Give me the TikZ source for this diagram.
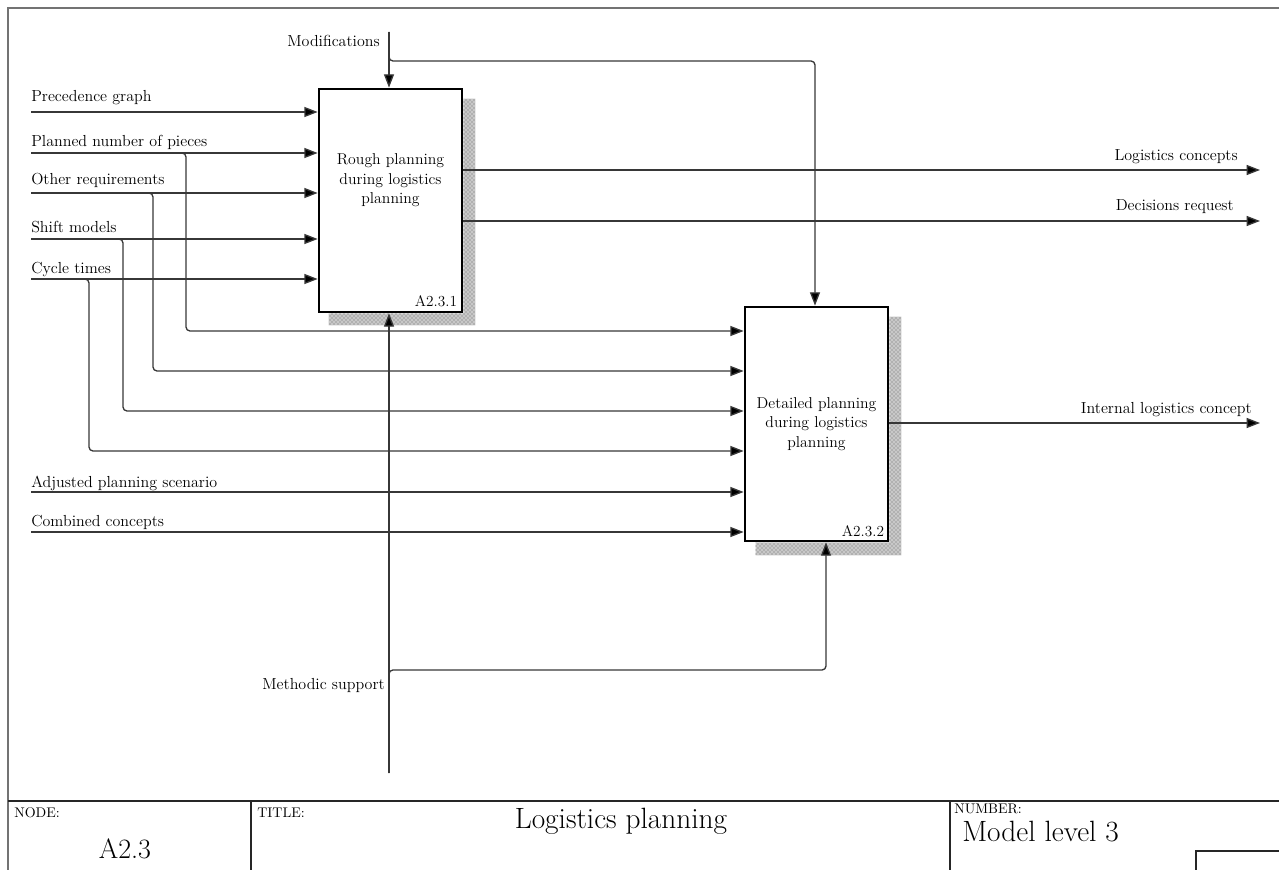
\documentclass[tikz,border=0pt]{standalone}
\definecolor{lineGray}{RGB}{55, 55, 55}
\definecolor{frameGray}{RGB}{115, 115, 115}
\definecolor{shadowGray}{RGB}{200, 200, 200}
\usepackage{tikz}
\usetikzlibrary{arrows.meta, positioning, calc, patterns, backgrounds}

\begin{document}
\begin{tikzpicture}[x=0.75pt, y=-0.75pt,
    flow/.style={draw=lineGray, line width=1pt, rounded corners=3pt,
      -{Triangle[length=10pt, width=7.5pt, fill=black]}},
    activity/.style={draw=black, line width=2pt, fill=white,
      minimum width=107.25pt, inner sep=0pt},
    acttext/.style={align=center, font=\fontsize{11.8}{14.6}\selectfont},
    actid/.style={anchor=base east, inner sep=0pt, font=\fontsize{11.5}{13}\selectfont},
    inlbl/.style={anchor=base west, inner sep=0pt, font=\fontsize{12}{14}\selectfont},
    outlbl/.style={anchor=base east, inner sep=0pt, font=\fontsize{12}{14}\selectfont},
    shade/.style={fill=shadowGray, postaction={pattern=crosshatch dots, pattern color=gray!80!black}},
    frame/.style={draw=frameGray, line width=1.5pt},
    tablebar/.style={draw=black!85, line width=1.1pt},
    headlbl/.style={anchor=base west, inner sep=0pt, font=\fontsize{10.5}{12}\selectfont},
    biglbl/.style={inner sep=0pt, font=\fontsize{22}{26}\selectfont}
  ]
  \useasboundingbox (0,0) rectangle (1279,870);

  % Frame
  \draw[frame] (8,870) -- (8,8) -- (1279,8);

  % Activities
  \node[activity, minimum height=167.25pt] (rough) at (390.5,200.5) {};
  \node[acttext] (roughtext) at ($(rough.center)+(0,-20)$) {Rough planning\\during logistics\\planning};
  \node[actid] (roughid) at ($(rough.south east)+(-6,-7)$) {A2.3.1};

  \node[activity, minimum height=175.5pt] (detail) at (816.5,424) {};
  \node[acttext] (detailtext) at (detail.center) {Detailed planning\\during logistics\\planning};
  \node[actid] (detailid) at ($(detail.south east)+(-5,-6)$) {A2.3.2};

  % Shadows
  \begin{scope}[on background layer]
    \path[shade] ($(rough.north east)+(0,11)$) -- ($(rough.north east)+(12,11)$)
      -- ($(rough.south east)+(12,12)$) -- ($(rough.south west)+(11,12)$)
      -- ($(rough.south west)+(11,0)$) -- (rough.south east) -- cycle;
    \path[shade] ($(detail.north east)+(0,11)$) -- ($(detail.north east)+(12,11)$)
      -- ($(detail.south east)+(12,13)$) -- ($(detail.south west)+(12,13)$)
      -- ($(detail.south west)+(12,0)$) -- (detail.south east) -- cycle;
  \end{scope}

  % Inputs of A2.3.1
  \foreach \name/\y/\up/\txt in {prec/112/10/Precedence graph, pieces/153/6/Planned number of pieces,
      other/193/8/Other requirements, shift/239/6/Shift models, cycle/279/6/Cycle times} {
    \coordinate (\name) at (31,\y);
    \node[inlbl] (\name-lbl) at (31,\y-\up) {\txt};
    \draw[flow] (\name) -- (\name -| rough.west);
  }
  % Same inputs to A2.3.2
  \foreach \name/\bx/\y in {pieces/186/331, other/153/371, shift/123/411, cycle/89/451}
    \draw[flow] (\name) -| (\bx,\y) -- (detail.west |- \bx,\y);

  % Inputs of A2.3.2
  \foreach \name/\y/\up/\txt in {adjusted/492/5/Adjusted planning scenario, combined/532/6/Combined concepts} {
    \coordinate (\name) at (31,\y);
    \node[inlbl] (\name-lbl) at (31,\y-\up) {\txt};
    \draw[flow] (\name) -- (\name -| detail.west);
  }

  % Controls
  \coordinate (modtop) at (389,32);
  \node[outlbl] (modlbl) at (380,47) {Modifications};
  \draw[flow] (modtop) -- (modtop |- rough.north);
  \draw[flow] (modtop) |- (815,61) -- (815,0 |- detail.north);

  % Mechanism
  \coordinate (methbot) at (389,773);
  \node[outlbl] (methlbl) at (385,689) {Methodic support};
  \draw[flow] (methbot) -- (methbot |- rough.south);
  \draw[flow] (methbot) |- (826,670) -- (826,0 |- detail.south);

  % Outputs
  \coordinate (concepts) at (1260,170);
  \coordinate (decisions) at (1260,221);
  \coordinate (internal) at (1260,423);
  \draw[flow] (concepts -| rough.east) -- (concepts);
  \draw[flow] (decisions -| rough.east) -- (decisions);
  \draw[flow] (internal -| detail.east) -- (internal);
  \node[outlbl] (concepts-lbl) at (1238,161) {Logistics concepts};
  \node[outlbl] (decisions-lbl) at (1234,211) {Decisions request};
  \node[outlbl] (internal-lbl) at (1252,413) {Internal logistics concept};

  % Title block
  \draw[tablebar] (8,801) -- (1279,801);
  \draw[tablebar] (251,801) -- (251,870);
  \draw[tablebar] (950,801) -- (950,870);
  \draw[tablebar] (1279,851) -- (1196,851) -- (1196,870);
  \node[headlbl] (nodehd) at (14,817) {NODE:};
  \node[headlbl] (titlehd) at (257,817) {TITLE:};
  \node[headlbl] (numhd) at (954,813) {NUMBER:};
  \node[inner sep=0pt, anchor=base, font=\fontsize{21}{25}\selectfont] (nodeval) at (125,858) {A2.3};
  \node[biglbl, anchor=base] (titleval) at (621,828) {Logistics planning};
  \node[biglbl, anchor=base west] (numval) at (962,841) {Model level 3};
\end{tikzpicture}
\end{document}
